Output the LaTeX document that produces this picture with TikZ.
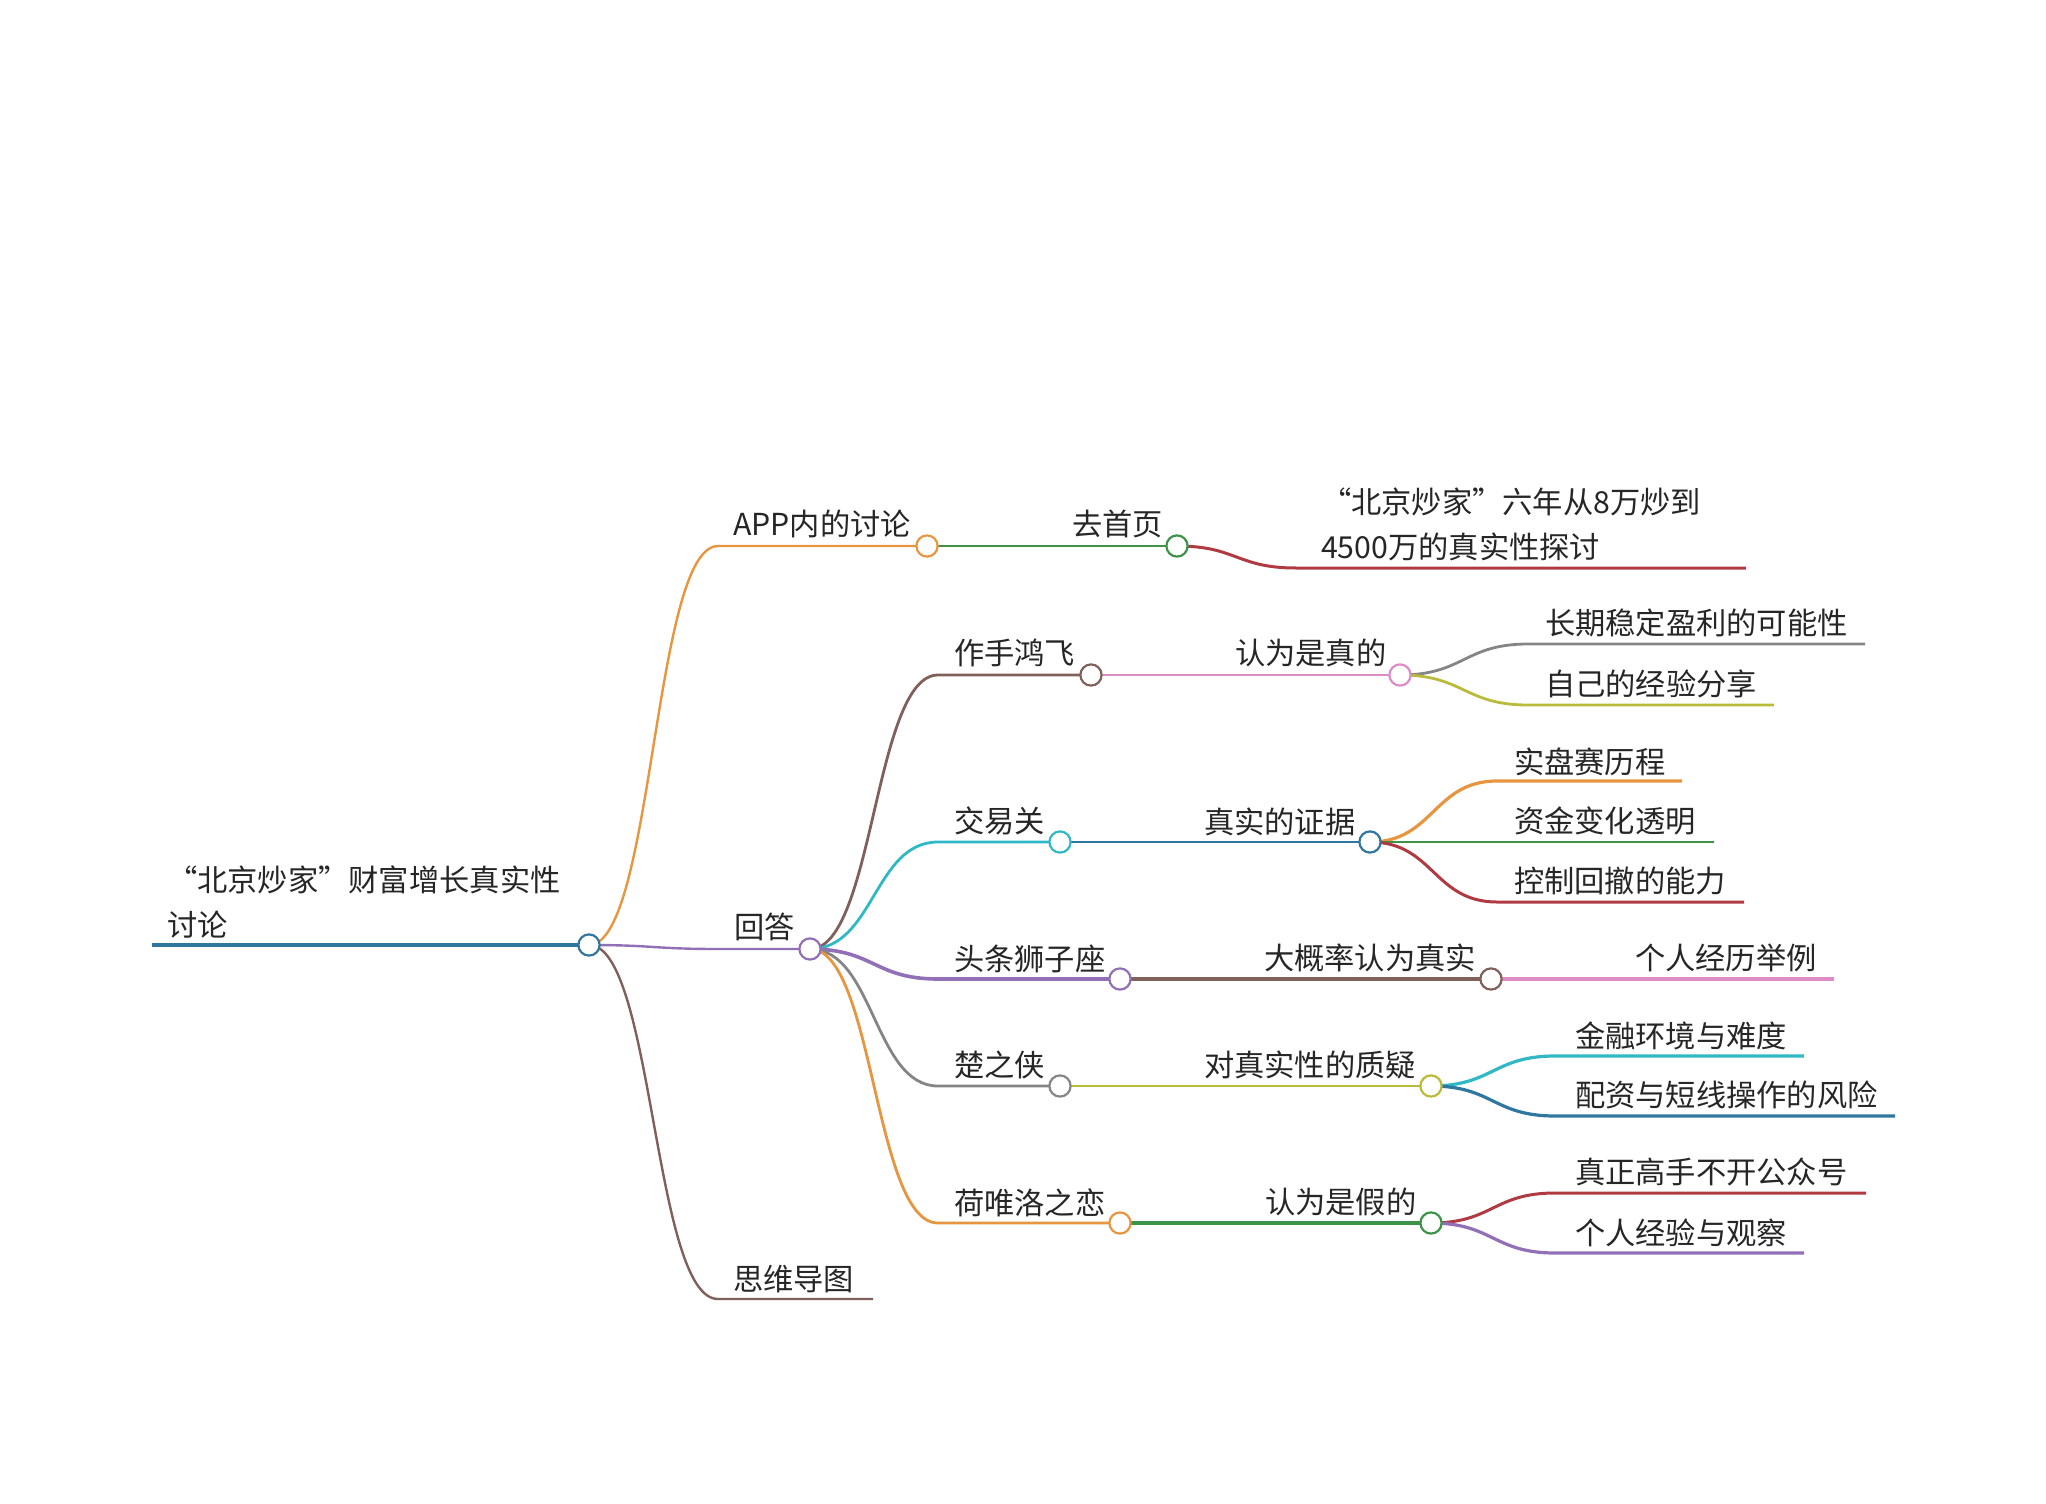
\documentclass[tikz,border=0pt]{standalone}
\usepackage{fontspec}
\usepackage{xcolor}
\setmainfont{Noto Sans CJK SC}
\definecolor{mblue}{HTML}{2F779F}
\definecolor{morange}{HTML}{E89540}
\definecolor{mgreen}{HTML}{3D9448}
\definecolor{mred}{HTML}{B03A42}
\definecolor{mpurple}{HTML}{9270B8}
\definecolor{mbrown}{HTML}{80605A}
\definecolor{mpink}{HTML}{DE8CC8}
\definecolor{mgray}{HTML}{858585}
\definecolor{molive}{HTML}{BABB3A}
\definecolor{mcyan}{HTML}{30B8C6}
\usetikzlibrary{calc, backgrounds}

\begin{document}
\begin{tikzpicture}[x=0.5pt,y=-0.5pt]
\tikzstyle{every node}=[inner sep=0pt, outer sep=0pt]
\tikzstyle{txt}=[anchor=west, yshift=-0.2pt, font=\fontsize{15.14pt}{22.4pt}\selectfont, text=black!85, align=left]
\tikzstyle{dot}=[circle, draw, fill=white, line width=1.1pt, minimum size=10.6pt]
\tikzstyle{bough}=[line width=1.2pt, to path={.. controls ($(\tikztostart)!.5!(\tikztostart-|\tikztotarget)$) and ($(\tikztotarget)!.5!(\tikztotarget-|\tikztostart)$) .. (\tikztotarget)}]
\useasboundingbox (0,0) rectangle (2046,1504);

\node[mblue, dot] (root) at (589,945) {};
\node[morange, dot] (app) at (927,546) {};
\node[mgreen, dot] (home) at (1177,546) {};
\node[mpurple, dot] (answer) at (810,949) {};
\node[mbrown, dot] (zuoshou) at (1091,675) {};
\node[mpink, dot] (zhen) at (1400,675) {};
\node[mcyan, dot] (jiaoyi) at (1060,842) {};
\node[mblue, dot] (proof) at (1370,842) {};
\node[mpurple, dot] (shizi) at (1120,979) {};
\node[mbrown, dot] (likely) at (1491,979) {};
\node[mgray, dot] (chu) at (1060,1086) {};
\node[molive, dot] (doubt) at (1431,1086) {};
\node[morange, dot] (heluo) at (1120,1223) {};
\node[mgreen, dot] (jia) at (1431,1223) {};

\node[txt] (troot) at (167,902) {“北京炒家”财富增长真实性\\讨论};
\node[txt] (tapp) at (733,524) {APP内的讨论};
\node[txt] (thome) at (1072,524) {去首页};
\node[txt] (tpost) at (1321,524) {“北京炒家”六年从8万炒到\\4500万的真实性探讨};
\node[txt] (tanswer) at (734,927) {回答};
\node[txt] (tzuoshou) at (954,653) {作手鸿飞};
\node[txt] (tzhen) at (1235,653) {认为是真的};
\node[txt] (tstable) at (1545,623) {长期稳定盈利的可能性};
\node[txt] (tshare) at (1545,684) {自己的经验分享};
\node[txt] (tjiaoyi) at (954,821) {交易关};
\node[txt] (tproof) at (1204,821) {真实的证据};
\node[txt] (tmatch) at (1514,761) {实盘赛历程};
\node[txt] (tfund) at (1514,821) {资金变化透明};
\node[txt] (tdraw) at (1514,881) {控制回撤的能力};
\node[txt] (tshizi) at (954,958) {头条狮子座};
\node[txt] (tlikely) at (1264,958) {大概率认为真实};
\node[txt] (tcase) at (1635,958) {个人经历举例};
\node[txt] (tchu) at (954,1065) {楚之侠};
\node[txt] (tdoubt) at (1204,1065) {对真实性的质疑};
\node[txt] (tenv) at (1575,1035) {金融环境与难度};
\node[txt] (trisk) at (1575,1095) {配资与短线操作的风险};
\node[txt] (theluo) at (954,1202) {荷唯洛之恋};
\node[txt] (tjia) at (1265,1202) {认为是假的};
\node[txt] (tmaster) at (1575,1172) {真正高手不开公众号};
\node[txt] (tobserve) at (1575,1232) {个人经验与观察};
\node[txt] (tmap) at (733,1279) {思维导图};

\coordinate (rootend) at (152,945);
\coordinate (b1) at (718,546);
\coordinate (b2) at (718,949);
\coordinate (b3) at (718,1299);
\coordinate (b3end) at (873,1299);
\coordinate (c1) at (938,675);
\coordinate (c2) at (938,842);
\coordinate (c3) at (938,979);
\coordinate (c4) at (938,1086);
\coordinate (c5) at (938,1223);
\coordinate (p1) at (1296,568);
\coordinate (p1end) at (1746,568);
\coordinate (d1) at (1528,644);
\coordinate (d1end) at (1865,644);
\coordinate (d2) at (1528,705);
\coordinate (d2end) at (1774,705);
\coordinate (e1) at (1497,781);
\coordinate (e1end) at (1682,781);
\coordinate (e2end) at (1714,842);
\coordinate (e3) at (1497,902);
\coordinate (e3end) at (1744,902);
\coordinate (f1end) at (1834,979);
\coordinate (g1) at (1555,1056);
\coordinate (g1end) at (1804,1056);
\coordinate (g2) at (1555,1116);
\coordinate (g2end) at (1895,1116);
\coordinate (h1) at (1555,1193);
\coordinate (h1end) at (1866,1193);
\coordinate (h2) at (1555,1253);
\coordinate (h2end) at (1804,1253);

\begin{pgfonlayer}{background}
\draw [mblue, line width=2pt] (rootend) -- (root.center);
\draw [bough, morange] (root.center) to (b1) -- (app.center);
\draw [bough, mpurple] (root.center) to (b2) -- (answer.center);
\draw [bough, mbrown] (root.center) to (b3) -- (b3end);
\draw [mgreen, line width=1.2pt] (app.center) -- (home.center);
\draw [bough, mred, line width=1.5pt] (home.center) to (p1) -- (p1end);
\draw [bough, mbrown, line width=1.4pt] (answer.center) to (c1) -- (zuoshou.center);
\draw [bough, mcyan, line width=1.4pt] (answer.center) to (c2) -- (jiaoyi.center);
\draw [bough, mpurple, line width=1.8pt] (answer.center) to (c3) -- (shizi.center);
\draw [bough, mgray, line width=1.4pt] (answer.center) to (c4) -- (chu.center);
\draw [bough, morange, line width=1.4pt] (answer.center) to (c5) -- (heluo.center);
\draw [mpink, line width=1.4pt] (zuoshou.center) -- (zhen.center);
\draw [mblue, line width=1.4pt] (jiaoyi.center) -- (proof.center);
\draw [mbrown, line width=1.9pt] (shizi.center) -- (likely.center);
\draw [molive, line width=1.3pt] (chu.center) -- (doubt.center);
\draw [mgreen, line width=1.8pt] (heluo.center) -- (jia.center);
\draw [bough, mgray, line width=1.4pt] (zhen.center) to (d1) -- (d1end);
\draw [bough, molive, line width=1.4pt] (zhen.center) to (d2) -- (d2end);
\draw [bough, morange, line width=1.6pt] (proof.center) to (e1) -- (e1end);
\draw [mgreen, line width=1.3pt] (proof.center) -- (e2end);
\draw [bough, mred, line width=1.5pt] (proof.center) to (e3) -- (e3end);
\draw [mpink, line width=1.8pt] (likely.center) -- (f1end);
\draw [bough, mcyan, line width=1.6pt] (doubt.center) to (g1) -- (g1end);
\draw [bough, mblue, line width=1.6pt] (doubt.center) to (g2) -- (g2end);
\draw [bough, mred, line width=1.5pt] (jia.center) to (h1) -- (h1end);
\draw [bough, mpurple, line width=1.6pt] (jia.center) to (h2) -- (h2end);
\end{pgfonlayer}

\end{tikzpicture}
\end{document}
